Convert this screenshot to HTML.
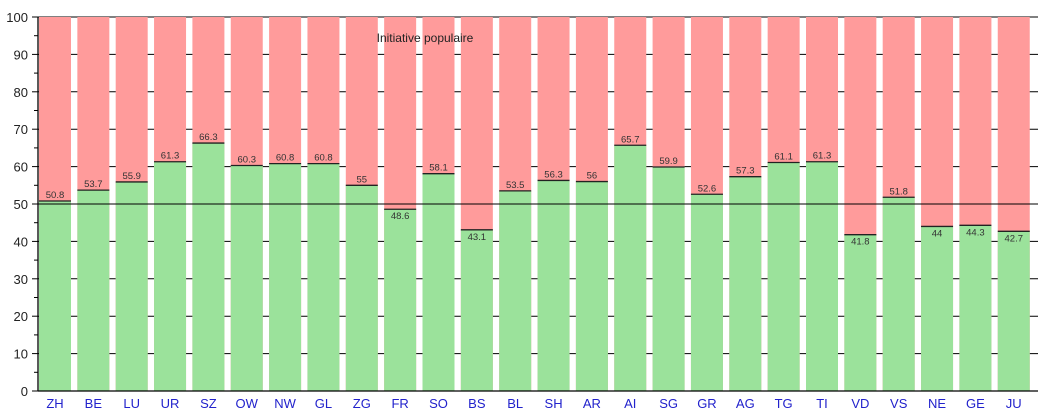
<!DOCTYPE html><html><head><style>body{margin:0;background:#fff}svg{display:block}</style></head><body>
<svg width="1049" height="414" xmlns="http://www.w3.org/2000/svg" font-family="Liberation Sans, sans-serif">
<g stroke="#000">
<line x1="38" x2="1038" y1="353.6" y2="353.6"/><line x1="38" x2="1038" y1="316.2" y2="316.2"/><line x1="38" x2="1038" y1="278.8" y2="278.8"/><line x1="38" x2="1038" y1="241.4" y2="241.4"/><line x1="38" x2="1038" y1="166.6" y2="166.6"/><line x1="38" x2="1038" y1="129.2" y2="129.2"/><line x1="38" x2="1038" y1="91.8" y2="91.8"/><line x1="38" x2="1038" y1="54.4" y2="54.4"/><line x1="38" x2="1038" y1="17" y2="17"/>
</g>
<g font-size="13" text-anchor="end" fill="#222" stroke="none">
<text x="28" y="396">0</text><text x="28" y="358.6">10</text><text x="28" y="321.2">20</text><text x="28" y="283.8">30</text><text x="28" y="246.4">40</text><text x="28" y="209">50</text><text x="28" y="171.6">60</text><text x="28" y="134.2">70</text><text x="28" y="96.8">80</text><text x="28" y="59.4">90</text><text x="28" y="22">100</text>
</g>
<g stroke="#000">
<line x1="32" x2="38" y1="391" y2="391"/><line x1="32" x2="38" y1="353.6" y2="353.6"/><line x1="32" x2="38" y1="316.2" y2="316.2"/><line x1="32" x2="38" y1="278.8" y2="278.8"/><line x1="32" x2="38" y1="241.4" y2="241.4"/><line x1="32" x2="38" y1="204" y2="204"/><line x1="32" x2="38" y1="166.6" y2="166.6"/><line x1="32" x2="38" y1="129.2" y2="129.2"/><line x1="32" x2="38" y1="91.8" y2="91.8"/><line x1="32" x2="38" y1="54.4" y2="54.4"/><line x1="32" x2="38" y1="17" y2="17"/>
<line x1="34" x2="38" y1="372.3" y2="372.3"/><line x1="34" x2="38" y1="334.9" y2="334.9"/><line x1="34" x2="38" y1="297.5" y2="297.5"/><line x1="34" x2="38" y1="260.1" y2="260.1"/><line x1="34" x2="38" y1="222.7" y2="222.7"/><line x1="34" x2="38" y1="185.3" y2="185.3"/><line x1="34" x2="38" y1="147.9" y2="147.9"/><line x1="34" x2="38" y1="110.5" y2="110.5"/><line x1="34" x2="38" y1="73.1" y2="73.1"/><line x1="34" x2="38" y1="35.7" y2="35.7"/>
</g>
<defs><rect id="r" x="0" y="17" width="32" height="374" fill="#ff9b9b"/></defs>
<g font-size="9.5" text-anchor="middle">
<g transform="translate(39,0)"><use href="#r"/><rect y="201.01" width="32" height="189.99" fill="#9be29b"/><line x2="32" y1="201.01" y2="201.01" stroke="#222" stroke-width="1.3"/><text x="16" y="198" fill="#333">50.8</text><text x="16" y="408" font-size="13" fill="#2222cc">ZH</text></g>
<g transform="translate(77.35,0)"><use href="#r"/><rect y="190.16" width="32" height="200.84" fill="#9be29b"/><line x2="32" y1="190.16" y2="190.16" stroke="#222" stroke-width="1.3"/><text x="16" y="187.2" fill="#333">53.7</text><text x="16" y="408" font-size="13" fill="#2222cc">BE</text></g>
<g transform="translate(115.7,0)"><use href="#r"/><rect y="181.93" width="32" height="209.07" fill="#9be29b"/><line x2="32" y1="181.93" y2="181.93" stroke="#222" stroke-width="1.3"/><text x="16" y="179" fill="#333">55.9</text><text x="16" y="408" font-size="13" fill="#2222cc">LU</text></g>
<g transform="translate(154.05,0)"><use href="#r"/><rect y="161.74" width="32" height="229.26" fill="#9be29b"/><line x2="32" y1="161.74" y2="161.74" stroke="#222" stroke-width="1.3"/><text x="16" y="158.7" fill="#333">61.3</text><text x="16" y="408" font-size="13" fill="#2222cc">UR</text></g>
<g transform="translate(192.4,0)"><use href="#r"/><rect y="143.04" width="32" height="247.96" fill="#9be29b"/><line x2="32" y1="143.04" y2="143.04" stroke="#222" stroke-width="1.3"/><text x="16" y="140" fill="#333">66.3</text><text x="16" y="408" font-size="13" fill="#2222cc">SZ</text></g>
<g transform="translate(230.75,0)"><use href="#r"/><rect y="165.48" width="32" height="225.52" fill="#9be29b"/><line x2="32" y1="165.48" y2="165.48" stroke="#222" stroke-width="1.3"/><text x="16" y="162.5" fill="#333">60.3</text><text x="16" y="408" font-size="13" fill="#2222cc">OW</text></g>
<g transform="translate(269.1,0)"><use href="#r"/><rect y="163.61" width="32" height="227.39" fill="#9be29b"/><line x2="32" y1="163.61" y2="163.61" stroke="#222" stroke-width="1.3"/><text x="16" y="160.6" fill="#333">60.8</text><text x="16" y="408" font-size="13" fill="#2222cc">NW</text></g>
<g transform="translate(307.45,0)"><use href="#r"/><rect y="163.61" width="32" height="227.39" fill="#9be29b"/><line x2="32" y1="163.61" y2="163.61" stroke="#222" stroke-width="1.3"/><text x="16" y="160.6" fill="#333">60.8</text><text x="16" y="408" font-size="13" fill="#2222cc">GL</text></g>
<g transform="translate(345.8,0)"><use href="#r"/><rect y="185.3" width="32" height="205.7" fill="#9be29b"/><line x2="32" y1="185.3" y2="185.3" stroke="#222" stroke-width="1.3"/><text x="16" y="182.3" fill="#333">55</text><text x="16" y="408" font-size="13" fill="#2222cc">ZG</text></g>
<g transform="translate(384.15,0)"><use href="#r"/><rect y="209.24" width="32" height="181.76" fill="#9be29b"/><line x2="32" y1="209.24" y2="209.24" stroke="#222" stroke-width="1.3"/><text x="16" y="219.2" fill="#333">48.6</text><text x="16" y="408" font-size="13" fill="#2222cc">FR</text></g>
<g transform="translate(422.5,0)"><use href="#r"/><rect y="173.71" width="32" height="217.29" fill="#9be29b"/><line x2="32" y1="173.71" y2="173.71" stroke="#222" stroke-width="1.3"/><text x="16" y="170.7" fill="#333">58.1</text><text x="16" y="408" font-size="13" fill="#2222cc">SO</text></g>
<g transform="translate(460.85,0)"><use href="#r"/><rect y="229.81" width="32" height="161.19" fill="#9be29b"/><line x2="32" y1="229.81" y2="229.81" stroke="#222" stroke-width="1.3"/><text x="16" y="239.8" fill="#333">43.1</text><text x="16" y="408" font-size="13" fill="#2222cc">BS</text></g>
<g transform="translate(499.2,0)"><use href="#r"/><rect y="190.91" width="32" height="200.09" fill="#9be29b"/><line x2="32" y1="190.91" y2="190.91" stroke="#222" stroke-width="1.3"/><text x="16" y="187.9" fill="#333">53.5</text><text x="16" y="408" font-size="13" fill="#2222cc">BL</text></g>
<g transform="translate(537.55,0)"><use href="#r"/><rect y="180.44" width="32" height="210.56" fill="#9be29b"/><line x2="32" y1="180.44" y2="180.44" stroke="#222" stroke-width="1.3"/><text x="16" y="177.4" fill="#333">56.3</text><text x="16" y="408" font-size="13" fill="#2222cc">SH</text></g>
<g transform="translate(575.9,0)"><use href="#r"/><rect y="181.56" width="32" height="209.44" fill="#9be29b"/><line x2="32" y1="181.56" y2="181.56" stroke="#222" stroke-width="1.3"/><text x="16" y="178.6" fill="#333">56</text><text x="16" y="408" font-size="13" fill="#2222cc">AR</text></g>
<g transform="translate(614.25,0)"><use href="#r"/><rect y="145.28" width="32" height="245.72" fill="#9be29b"/><line x2="32" y1="145.28" y2="145.28" stroke="#222" stroke-width="1.3"/><text x="16" y="142.3" fill="#333">65.7</text><text x="16" y="408" font-size="13" fill="#2222cc">AI</text></g>
<g transform="translate(652.6,0)"><use href="#r"/><rect y="166.97" width="32" height="224.03" fill="#9be29b"/><line x2="32" y1="166.97" y2="166.97" stroke="#222" stroke-width="1.3"/><text x="16" y="164" fill="#333">59.9</text><text x="16" y="408" font-size="13" fill="#2222cc">SG</text></g>
<g transform="translate(690.95,0)"><use href="#r"/><rect y="194.28" width="32" height="196.72" fill="#9be29b"/><line x2="32" y1="194.28" y2="194.28" stroke="#222" stroke-width="1.3"/><text x="16" y="191.3" fill="#333">52.6</text><text x="16" y="408" font-size="13" fill="#2222cc">GR</text></g>
<g transform="translate(729.3,0)"><use href="#r"/><rect y="176.7" width="32" height="214.3" fill="#9be29b"/><line x2="32" y1="176.7" y2="176.7" stroke="#222" stroke-width="1.3"/><text x="16" y="173.7" fill="#333">57.3</text><text x="16" y="408" font-size="13" fill="#2222cc">AG</text></g>
<g transform="translate(767.65,0)"><use href="#r"/><rect y="162.49" width="32" height="228.51" fill="#9be29b"/><line x2="32" y1="162.49" y2="162.49" stroke="#222" stroke-width="1.3"/><text x="16" y="159.5" fill="#333">61.1</text><text x="16" y="408" font-size="13" fill="#2222cc">TG</text></g>
<g transform="translate(806,0)"><use href="#r"/><rect y="161.74" width="32" height="229.26" fill="#9be29b"/><line x2="32" y1="161.74" y2="161.74" stroke="#222" stroke-width="1.3"/><text x="16" y="158.7" fill="#333">61.3</text><text x="16" y="408" font-size="13" fill="#2222cc">TI</text></g>
<g transform="translate(844.35,0)"><use href="#r"/><rect y="234.67" width="32" height="156.33" fill="#9be29b"/><line x2="32" y1="234.67" y2="234.67" stroke="#222" stroke-width="1.3"/><text x="16" y="244.7" fill="#333">41.8</text><text x="16" y="408" font-size="13" fill="#2222cc">VD</text></g>
<g transform="translate(882.7,0)"><use href="#r"/><rect y="197.27" width="32" height="193.73" fill="#9be29b"/><line x2="32" y1="197.27" y2="197.27" stroke="#222" stroke-width="1.3"/><text x="16" y="194.3" fill="#333">51.8</text><text x="16" y="408" font-size="13" fill="#2222cc">VS</text></g>
<g transform="translate(921.05,0)"><use href="#r"/><rect y="226.44" width="32" height="164.56" fill="#9be29b"/><line x2="32" y1="226.44" y2="226.44" stroke="#222" stroke-width="1.3"/><text x="16" y="236.4" fill="#333">44</text><text x="16" y="408" font-size="13" fill="#2222cc">NE</text></g>
<g transform="translate(959.4,0)"><use href="#r"/><rect y="225.32" width="32" height="165.68" fill="#9be29b"/><line x2="32" y1="225.32" y2="225.32" stroke="#222" stroke-width="1.3"/><text x="16" y="235.3" fill="#333">44.3</text><text x="16" y="408" font-size="13" fill="#2222cc">GE</text></g>
<g transform="translate(997.75,0)"><use href="#r"/><rect y="231.3" width="32" height="159.7" fill="#9be29b"/><line x2="32" y1="231.3" y2="231.3" stroke="#222" stroke-width="1.3"/><text x="16" y="241.3" fill="#333">42.7</text><text x="16" y="408" font-size="13" fill="#2222cc">JU</text></g>
</g>
<line x1="38" x2="1038" y1="204" y2="204" stroke="#000"/>
<line x1="38" x2="1038" y1="391" y2="391" stroke="#000" stroke-width="1.3"/>
<line x1="38" x2="38" y1="17" y2="391" stroke="#000" stroke-width="1.3"/>
<text x="425" y="42" font-size="12" text-anchor="middle" fill="#222">Initiative populaire</text>
</svg></body></html>
